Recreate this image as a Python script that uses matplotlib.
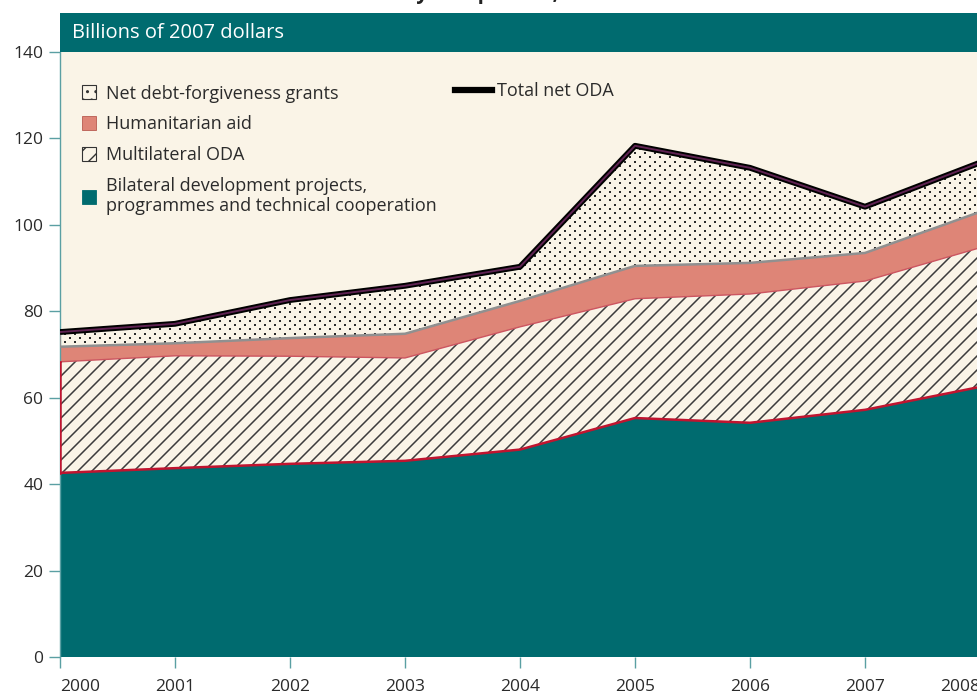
import numpy as np
import matplotlib
matplotlib.use("Agg")
import matplotlib.pyplot as plt
from matplotlib.patches import Patch, Rectangle
from matplotlib.lines import Line2D
from matplotlib.collections import LineCollection

plt.rcParams['font.family'] = ['Open Sans', 'DejaVu Sans']

# ---- data (billions of 2007 dollars) ----
years = [2000, 2001, 2002, 2003, 2004, 2005, 2006, 2007, 2008]
bilateral = [42.6, 43.7, 44.7, 45.4, 48.0, 55.3, 54.2, 57.2, 62.5]
multilateral = [25.7, 26.0, 24.9, 23.8, 28.4, 27.6, 29.8, 29.8, 32.2]
humanitarian = [3.5, 2.9, 4.2, 5.6, 6.0, 7.6, 7.2, 6.5, 8.3]
debt_relief = [3.4, 4.5, 8.8, 11.1, 7.9, 27.8, 22.0, 10.7, 11.4]
total_oda = [75.2, 77.1, 82.6, 85.9, 90.3, 118.3, 113.2, 104.2, 114.4]
yticks = [0, 20, 40, 60, 80, 100, 120, 140]
year_labels = ['2000', '2001', '2002', '2003', '2004', '2005', '2006', '2007', '2008']
labels = ['Net debt-forgiveness grants', 'Humanitarian aid', 'Multilateral ODA',
          'Bilateral development projects,\nprogrammes and technical cooperation']
banner_text = 'Billions of 2007 dollars'
title_text = 'Net ODA by component, 2000\u20132008'

TEAL = '#006B6F'
CREAM = '#FAF4E7'
PINK = '#DE8577'
RED = '#C0142F'
GRAY = '#909090'
PURPLE = '#5E2251'
TICKC = '#5A9FA3'
TXT = '#2B2B2B'

x = np.array(years, dtype=float)
b = np.array(bilateral)
m_top = b + np.array(multilateral)
h_top = m_top + np.array(humanitarian)
d_top = h_top + np.array(debt_relief)

W, H = 977, 698
fig = plt.figure(figsize=(W / 100, H / 100), dpi=100)
fig.patch.set_facecolor('white')
ax_left = 60 / W
ax_right = 980 / W
ax_bot = (H - 657) / H
ax_top = (H - 52) / H
ax = fig.add_axes([ax_left, ax_bot, ax_right - ax_left, ax_top - ax_bot])
ax.set_facecolor(CREAM)
ax.set_xlim(2000, 2008)
ax.set_ylim(0, 140)

px_per_year = (ax_right - ax_left) * W / 8.0
px_per_unit = (ax_top - ax_bot) * H / 140.0


def to_data(px, py):
    return 2000 + np.asarray(px) / px_per_year, np.asarray(py) / px_per_unit


# areas
ax.fill_between(x, 0, b, facecolor=TEAL, edgecolor='none', zorder=2)
multi_poly = ax.fill_between(x, b, m_top, facecolor=CREAM, edgecolor='none', zorder=2)
ax.fill_between(x, m_top, h_top, facecolor=PINK, edgecolor='none', zorder=2)
debt_poly = ax.fill_between(x, h_top, d_top, facecolor=CREAM, edgecolor='none', zorder=2)

# diagonal hatch texture for multilateral band
segs = []
for k in range(-60, 80):
    x0 = k * 14.0
    xs, ys = to_data([x0, x0 + 700], [0, 700])
    segs.append(list(zip(xs, ys)))
lc = LineCollection(segs, colors='#3c3c3c', linewidths=1.1, zorder=3)
ax.add_collection(lc)
lc.set_clip_path(multi_poly.get_paths()[0], ax.transData)

# dotted diagonal texture for debt-forgiveness band
pts_x, pts_y = [], []
for k in range(-80, 110):
    for j in range(0, 140):
        px = k * 10.0 + j * 5.0
        py = 620 - j * 4.3
        pts_x.append(px)
        pts_y.append(py)
pts_x, pts_y = to_data(pts_x, pts_y)
keep = (pts_x >= 2000) & (pts_x <= 2008) & (pts_y >= 60) & (pts_y <= 125)
sc = ax.scatter(pts_x[keep], pts_y[keep], s=2.2, marker='s', color='#2a2a2a', linewidths=0, zorder=3)
sc.set_clip_path(debt_poly.get_paths()[0], ax.transData)

# edge lines
ax.plot(x, m_top, color='#CC5560', lw=1.0, zorder=4)
ax.plot([x[0], x[0]], [b[0], m_top[0]], color=RED, lw=1.8, zorder=4)
ax.plot(x, b, color=RED, lw=1.8, zorder=4)
ax.plot([x[0], x[0]], [h_top[0], d_top[0]], color=GRAY, lw=1.5, zorder=4)
ax.plot(x, h_top, color=GRAY, lw=1.8, zorder=4)
ax.plot(x, total_oda, color='black', lw=4.2, zorder=5, solid_capstyle='butt')
ax.plot(x, total_oda, color=PURPLE, lw=1.4, zorder=6, solid_capstyle='butt')

# axes styling
for s in ['top', 'right', 'bottom']:
    ax.spines[s].set_visible(False)
ax.spines['left'].set_color(TICKC)
ax.spines['left'].set_linewidth(1.0)
ax.set_yticks(yticks)
ax.set_yticklabels([str(v) for v in yticks])
ax.set_xticks(years)
ax.set_xticklabels(year_labels)
ax.tick_params(axis='y', length=8, width=1.0, color=TICKC, labelcolor=TXT, labelsize=12.5, pad=4)
ax.tick_params(axis='x', length=8, width=1.0, color=TICKC, labelcolor=TXT, labelsize=12.5, pad=8)
xt = ax.get_xticklabels()
xt[0].set_ha('left')
xt[-1].set_ha('right')

# banner
ax.add_patch(Rectangle((0, 1.0), 1.2, 39 / ((ax_top - ax_bot) * H), transform=ax.transAxes,
                       facecolor=TEAL, edgecolor='none', clip_on=False, zorder=10))
ax.text(12 / ((ax_right - ax_left) * W), 1.0 + 19.5 / ((ax_top - ax_bot) * H), banner_text,
        transform=ax.transAxes, color='white', fontsize=14.5, va='center', ha='left', zorder=11)

# cut-off title at very top
fig.text(0.5, 1 + 1.5 / H, title_text, ha='center', va='baseline', fontsize=15, fontweight='bold',
         color='#222222')

# legends
handles = [
    Patch(facecolor=CREAM, edgecolor='#333333', hatch='..', linewidth=0.8),
    Patch(facecolor=PINK, edgecolor='#B85A50', linewidth=0.6),
    Patch(facecolor=CREAM, edgecolor='#333333', hatch='//', linewidth=0.8),
    Patch(facecolor=TEAL, edgecolor=TEAL, linewidth=0.6),
]
leg = ax.legend(handles, labels, loc='upper left', bbox_to_anchor=(0.016, 0.958), frameon=False,
                fontsize=13, labelcolor=TXT, handlelength=0.8, handleheight=0.8,
                handletextpad=0.55, labelspacing=0.7, borderaxespad=0)
ax.add_artist(leg)
leg2 = ax.legend([Line2D([0], [0], color='black', lw=4.5)], ['Total net ODA'], loc='upper left',
                 bbox_to_anchor=(0.422, 0.962), frameon=False, fontsize=13, labelcolor=TXT,
                 handlelength=2.0, handletextpad=0.3, borderaxespad=0)

fig.savefig('out.png', dpi=100, facecolor='white')
